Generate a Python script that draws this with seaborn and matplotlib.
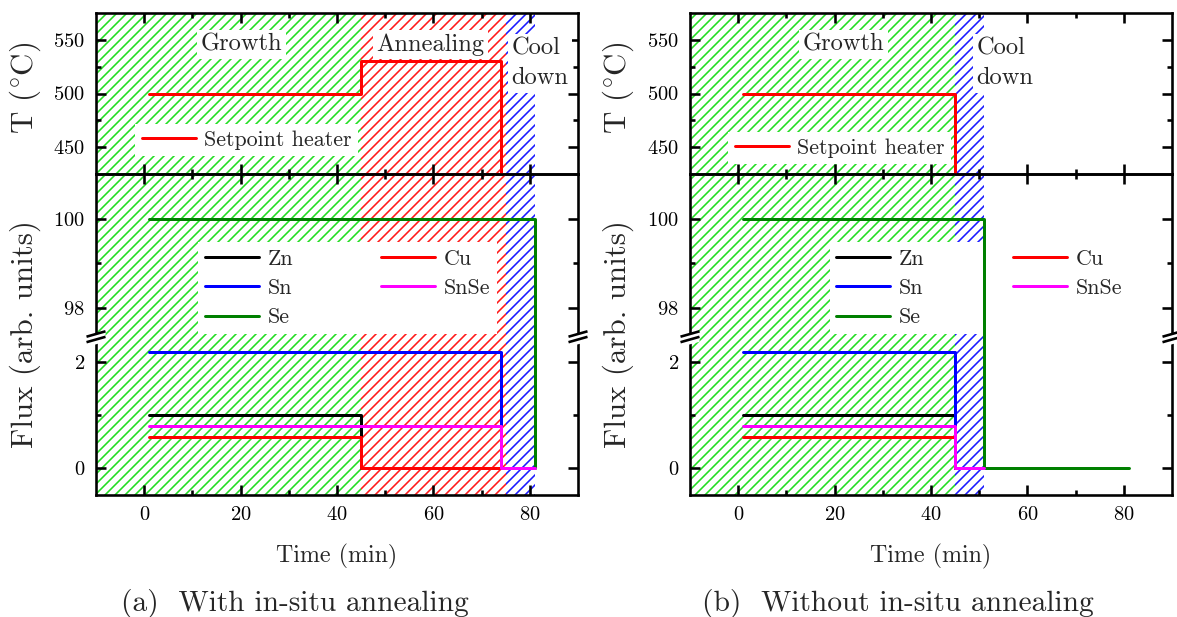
import matplotlib
matplotlib.use("Agg")
import matplotlib.pyplot as plt
import seaborn as sns
import numpy as np
import pandas as pd
from matplotlib.ticker import FixedLocator

# ---------------- data ----------------
# heater setpoint (step functions, steps-post)
t_sp_a = [1, 45, 74]
T_sp_a = [500, 530, 400]
t_sp_b = [1, 45]
T_sp_b = [500, 400]

species = ["Zn", "Sn", "Se", "Cu", "SnSe"]
species_colors = ["#000000", "#0000ff", "#008000", "#ff0000", "#ff00ff"]

# (a) with in-situ annealing
zn_t_a, zn_f_a = [1, 45], [1.0, 0.0]
sn_t_a, sn_f_a = [1, 74], [2.2, 0.0]
se_t_a, se_f_a = [1, 81], [100.0, 0.0]
cu_t_a, cu_f_a = [1, 45, 74], [0.6, 0.0, 0.0]
snse_t_a, snse_f_a = [1, 74, 81], [0.8, 0.0, 0.0]

# (b) without in-situ annealing
zn_t_b, zn_f_b = [1, 45], [1.0, 0.0]
sn_t_b, sn_f_b = [1, 45], [2.2, 0.0]
se_t_b, se_f_b = [1, 51, 81], [100.0, 0.0, 0.0]
cu_t_b, cu_f_b = [1, 45], [0.6, 0.0]
snse_t_b, snse_f_b = [1, 45, 51], [0.8, 0.0, 0.0]

phase_labels_a = ["Growth", "Annealing", "Cool\ndown"]
phase_edges_a = [-10, 45, 75, 81]
phase_colors_a = ["#22dd22", "#ff1a1a", "#1a1aff"]
phase_labels_b = ["Growth", "Cool\ndown"]
phase_edges_b = [-10, 45, 51]
phase_colors_b = ["#22dd22", "#1a1aff"]

captions = ["(a)  With in-situ annealing", "(b)  Without in-situ annealing"]

# ---------------- style ----------------
sns.set_theme(style="ticks")
DPI = 150
W, H = 1177, 617
px = 72.0 / DPI  # points per pixel
plt.rcParams.update({
    "font.family": ["cmr10", "DejaVu Serif"],
    "mathtext.fontset": "cm",
    "axes.formatter.use_mathtext": True,
    "axes.unicode_minus": False,
    "hatch.linewidth": 1.6 * px,
    "axes.linewidth": 2.6 * px,
    "axes.edgecolor": "black",
    "xtick.color": "black",
    "ytick.color": "black",
})

fig = plt.figure(figsize=(W / DPI, H / DPI), dpi=DPI)

LW = 3.0 * px
TICK_FS = 20.5 * px
XLAB_FS = 24 * px
YLAB_FS = 31 * px
LEG_FS = 22 * px
ANN_FS = 24.5 * px
CAP_FS = 29.5 * px


def fpos(x0, y_top, w, h):
    return [x0 / W, 1 - (y_top + h) / H, w / W, h / H]


def style_ax(ax, top, bottom, labelbottom):
    ax.set_xlim(-10, 90)
    ax.xaxis.set_major_locator(FixedLocator([0, 20, 40, 60, 80]))
    ax.xaxis.set_minor_locator(FixedLocator([10, 30, 50, 70]))
    ax.tick_params(which="both", direction="in", left=True, right=True,
                   top=top, bottom=bottom, labelbottom=labelbottom,
                   labelleft=True, labelright=False, labeltop=False,
                   width=2.6 * px, labelsize=TICK_FS, pad=11 * px)
    ax.tick_params(which="major", length=10 * px)
    ax.tick_params(which="minor", length=5.5 * px)
    ax.grid(False)
    ax.set_facecolor("none")


def hatch_spans(ax, edges, cols):
    for i, c in enumerate(cols):
        ax.axvspan(edges[i], edges[i + 1], facecolor="none", edgecolor=c,
                   hatch="/////", lw=0, zorder=0.5)


def draw_break(ax, ax_w, ax_h):
    # broken-axis marks at the top of the lower flux axes, both spines
    dx = 9.5 / ax_w
    for xs in (0.0, 1.0):
        ax.fill([xs - dx, xs + dx, xs + dx, xs - dx],
                [1 + (-2.5 + 0.5) / ax_h, 1 + (2.5 + 0.5) / ax_h,
                 1 + (-2.5 - 5.3) / ax_h, 1 + (-7.5 - 5.3) / ax_h],
                color="white", transform=ax.transAxes, clip_on=False,
                zorder=20, lw=0)
        for off in (0.0, -5.5):
            ax.plot([xs - dx, xs + dx],
                    [1 + (-2.7 + off) / ax_h, 1 + (2.7 + off) / ax_h],
                    color="black", lw=2.6 * px, transform=ax.transAxes,
                    clip_on=False, zorder=21, solid_capstyle="butt")


panels = [
    dict(x0=96, t_sp=t_sp_a, T_sp=T_sp_a,
         flux=[(zn_t_a, zn_f_a), (sn_t_a, sn_f_a), (se_t_a, se_f_a),
               (cu_t_a, cu_f_a), (snse_t_a, snse_f_a)],
         labels=phase_labels_a, edges=phase_edges_a, pcols=phase_colors_a,
         texts=[(20.2, 545.5, "center"), (59.4, 545.5, "center"), (76.2, 528, "left")],
         tleg=(0.081, 0.11), fleg=(0.212, 0.0), cap_x=295, ylab_x=25),
    dict(x0=690, t_sp=t_sp_b, T_sp=T_sp_b,
         flux=[(zn_t_b, zn_f_b), (sn_t_b, sn_f_b), (se_t_b, se_f_b),
               (cu_t_b, cu_f_b), (snse_t_b, snse_f_b)],
         labels=phase_labels_b, edges=phase_edges_b, pcols=phase_colors_b,
         texts=[(21.8, 545.5, "center"), (49.4, 528, "left")],
         tleg=(0.079, 0.06), fleg=(0.29, 0.0), cap_x=898, ylab_x=618),
]

AX_W = 482
for k, p in enumerate(panels):
    axT = fig.add_axes(fpos(p["x0"], 13, AX_W, 161))
    axU = fig.add_axes(fpos(p["x0"], 174, AX_W, 160), sharex=axT)
    axL = fig.add_axes(fpos(p["x0"], 334, AX_W, 161), sharex=axT)

    # hatched phases
    for ax in (axT, axU, axL):
        hatch_spans(ax, p["edges"], p["pcols"])

    # temperature setpoint
    sns.lineplot(x=p["t_sp"], y=p["T_sp"], ax=axT, color="#ff0000", lw=LW,
                 drawstyle="steps-post", estimator=None, sort=False,
                 label="Setpoint heater", legend=False, zorder=6)
    axT.set_ylim(425, 575)
    axT.yaxis.set_major_locator(FixedLocator([450, 500, 550]))
    axT.yaxis.set_minor_locator(FixedLocator([475, 525]))
    style_ax(axT, top=True, bottom=True, labelbottom=False)

    # fluxes on both halves of the broken axis
    for ax in (axU, axL):
        for name, col, (tt, ff) in zip(species, species_colors, p["flux"]):
            sns.lineplot(x=tt, y=ff, ax=ax, color=col, lw=LW,
                         drawstyle="steps-post", estimator=None, sort=False,
                         label=name, legend=False, zorder=6)
    axU.set_ylim(97.42, 101.0)
    axU.yaxis.set_major_locator(FixedLocator([98, 100]))
    axU.yaxis.set_minor_locator(FixedLocator([99]))
    style_ax(axU, top=True, bottom=False, labelbottom=False)
    axU.spines["bottom"].set_visible(False)

    axL.set_ylim(-0.5, 2.53)
    axL.yaxis.set_major_locator(FixedLocator([0, 2]))
    axL.yaxis.set_minor_locator(FixedLocator([1]))
    style_ax(axL, top=False, bottom=True, labelbottom=True)
    axL.spines["top"].set_visible(False)

    for ax in (axT, axU, axL):
        ax.set_xlabel("")
        ax.set_ylabel("")
    axL.set_xlabel("Time (min)", fontsize=XLAB_FS, labelpad=20 * px)

    # phase annotations
    for lab, (tx, ty, ha) in zip(p["labels"], p["texts"]):
        axT.text(tx, ty, lab, ha=ha, va="center", fontsize=ANN_FS,
                 linespacing=1.45, zorder=3,
                 bbox=dict(facecolor="white", edgecolor="none", pad=3.5 * px))

    # legends
    lg = axT.legend(loc="lower left", bbox_to_anchor=p["tleg"], borderaxespad=0,
                    fontsize=LEG_FS, frameon=True, fancybox=False, framealpha=1,
                    facecolor="white", edgecolor="none", handlelength=2.45,
                    handletextpad=0.4, borderpad=0.3)
    lg.set_zorder(5)
    h, l = axU.get_legend_handles_labels()
    lg2 = axU.legend(h, l, loc="lower left", bbox_to_anchor=p["fleg"], borderaxespad=0,
                     ncol=2, fontsize=LEG_FS, frameon=True, fancybox=False,
                     framealpha=1, facecolor="white", edgecolor="none",
                     handlelength=2.45, handletextpad=0.4, columnspacing=4.0,
                     labelspacing=0.45, borderpad=0.3)
    lg2.set_zorder(5)

    draw_break(axL, AX_W, 161)

    # y labels and caption
    fig.text(p["ylab_x"] / W, 1 - 88 / H, r"T ($^{\circ}$C)", rotation=90,
             ha="center", va="center", fontsize=YLAB_FS)
    fig.text(p["ylab_x"] / W, 1 - 334 / H, "Flux (arb. units)", rotation=90,
             ha="center", va="center", fontsize=YLAB_FS)
    fig.text(p["cap_x"] / W, 1 - 603 / H, captions[k], ha="center", va="center",
             fontsize=CAP_FS)

fig.savefig("out.png", dpi=DPI)
